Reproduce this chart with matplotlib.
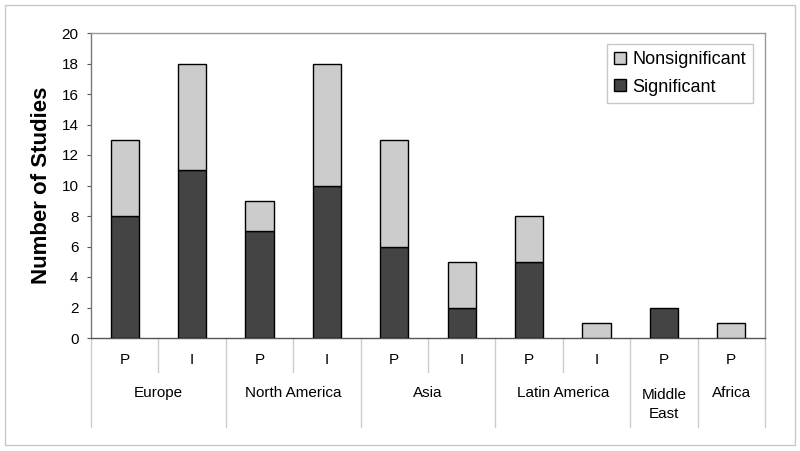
import matplotlib
matplotlib.use("Agg")
import matplotlib.pyplot as plt
from matplotlib.patches import Rectangle
import matplotlib.transforms as mtransforms

plt.rcParams['font.family'] = ['Liberation Sans', 'DejaVu Sans']

sub_labels = ["P", "I", "P", "I", "P", "I", "P", "I", "P", "P"]
groups = ["Europe", "North America", "Asia", "Latin America", "Middle\nEast", "Africa"]
group_sizes = [2, 2, 2, 2, 1, 1]
significant = [8, 11, 7, 10, 6, 2, 5, 0, 2, 0]
nonsignificant = [5, 7, 2, 8, 7, 3, 3, 1, 0, 1]

dark = "#444444"
light = "#cccccc"

fig = plt.figure(figsize=(8, 4.51), dpi=100)
fig.patches.append(Rectangle((5/800, 6/451), 790/800, 440/451, transform=fig.transFigure,
                             fill=False, edgecolor="#c8c8c8", linewidth=1.0))
ax = fig.add_axes([91/800, 113/451, 674/800, 305/451])

x = list(range(len(sub_labels)))
w = 0.42
b1 = ax.bar(x, significant, width=w, color=dark, edgecolor="black", linewidth=1.0,
            label="Significant", zorder=3)
b2 = ax.bar(x, nonsignificant, bottom=significant, width=w, color=light, edgecolor="black",
            linewidth=1.0, label="Nonsignificant", zorder=3)
for rect in list(b1) + list(b2):
    if rect.get_height() == 0:
        rect.set_visible(False)

ax.set_xlim(-0.5, len(x) - 0.5)
ax.set_ylim(0, 20)
ax.set_yticks(range(0, 21, 2))
ax.tick_params(axis='y', labelsize=11, length=3, color="#555555", pad=6)
ax.set_xticks([])
for s in ['top', 'right']:
    ax.spines[s].set_color("#999999")
ax.spines['left'].set_color("#777777")
ax.spines['bottom'].set_color("#555555")
for s in ax.spines.values():
    s.set_linewidth(1.0)

ax.set_ylabel("Number of Studies", fontsize=16, fontweight='bold', labelpad=7)

trans = mtransforms.blended_transform_factory(ax.transData, ax.transAxes)
sep_color = "#cccccc"
for i, lab in enumerate(sub_labels):
    ax.text(i, -0.072, lab, transform=trans, ha='center', va='center', fontsize=11)
boundaries_long = [-0.5]
pos = -0.5
centers = []
for g in group_sizes:
    centers.append(pos + g / 2)
    pos += g
    boundaries_long.append(pos)
short = [b + 1 for b, g in zip(boundaries_long[:-1], group_sizes) if g == 2]
for b in boundaries_long:
    ax.plot([b, b], [0, -0.292], transform=trans, color=sep_color, lw=1.0, clip_on=False)
for b in short:
    ax.plot([b, b], [0, -0.112], transform=trans, color=sep_color, lw=1.0, clip_on=False)
for c, gname in zip(centers, groups):
    if "\n" in gname:
        ax.text(c, -0.218, gname, transform=trans, ha='center', va='center', fontsize=11,
                linespacing=1.45)
    else:
        ax.text(c, -0.18, gname, transform=trans, ha='center', va='center', fontsize=11)

leg = ax.legend(handles=[b2, b1], labels=["Nonsignificant", "Significant"],
                loc='upper right', bbox_to_anchor=(0.982, 0.965), fontsize=13,
                frameon=True, fancybox=False, edgecolor="#bbbbbb",
                handlelength=0.65, handleheight=0.65, handletextpad=0.35,
                borderpad=0.4, labelspacing=0.6, borderaxespad=0)
leg.get_frame().set_linewidth(1.0)

fig.savefig("out.png", dpi=100)
